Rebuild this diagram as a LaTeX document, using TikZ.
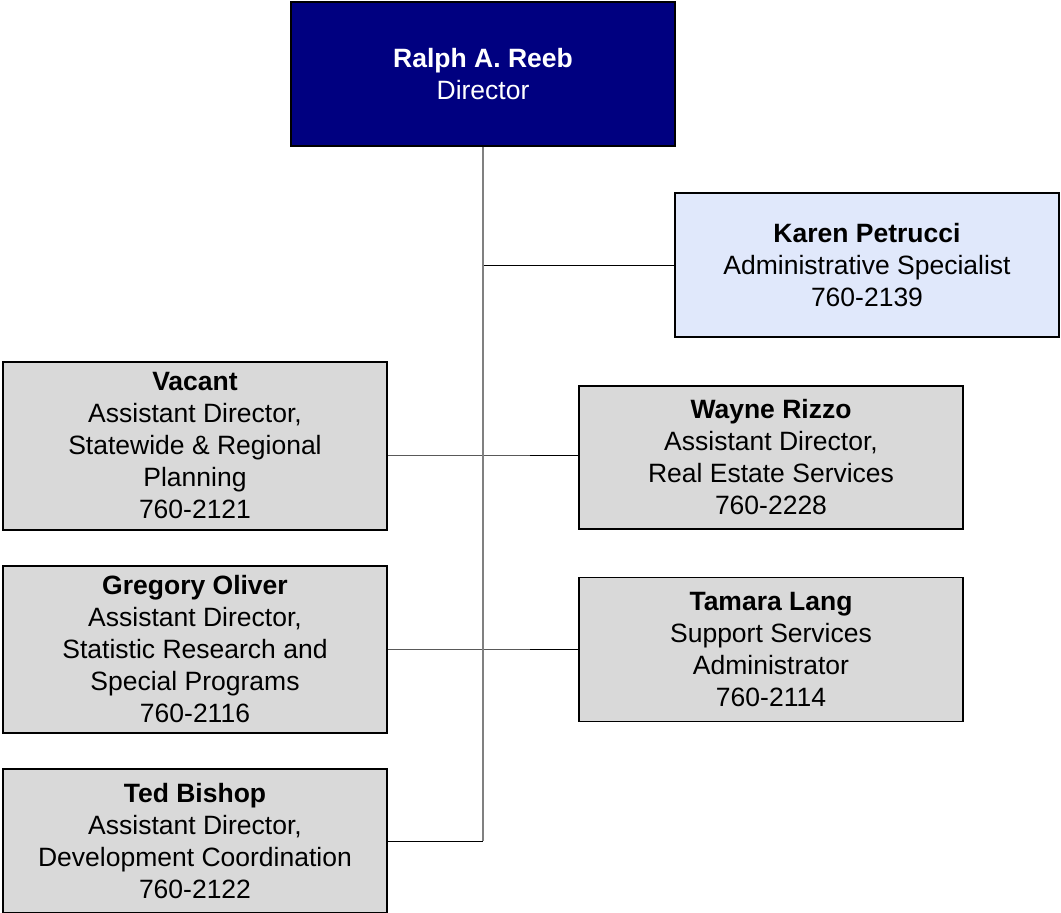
\documentclass[tikz,border=0pt]{standalone}
\usepackage{fontspec}
\setmainfont{Liberation Sans}
\definecolor{navy}{HTML}{000080}
\definecolor{lightblue}{HTML}{E0E8FB}
\definecolor{boxgrey}{HTML}{D9D9D9}
\definecolor{trunkgrey}{HTML}{808080}
\tikzset{
  orgbox/.style={draw=black, line width=1.5pt, fill=boxgrey, inner sep=0pt,
    minimum width=384pt, align=center,
    font=\fontsize{26.5}{32}\selectfont},
  topbox/.style={orgbox, fill=navy, text=white},
  adminbox/.style={orgbox, fill=lightblue},
  trunk/.style={draw=trunkgrey, line width=1.5pt},
  branch/.style={draw=black, line width=1pt}
}
\begin{document}
\begin{tikzpicture}[x=1pt,y=-1pt]
\useasboundingbox (0,0) rectangle (1061,913);
\node[topbox, minimum height=144pt] (dir) at (483,74) {\textbf{Ralph A. Reeb}\\Director};
\node[adminbox, minimum height=144pt] (karen) at (867,265) {\textbf{Karen Petrucci}\\Administrative Specialist\\760-2139};
\node[orgbox, minimum height=168pt] (vacant) at (195,446) {\textbf{Vacant}\\Assistant Director,\\Statewide \& Regional\\Planning\\760-2121};
\node[orgbox, minimum height=143pt] (wayne) at (771,457.5) {\textbf{Wayne Rizzo}\\Assistant Director,\\Real Estate Services\\760-2228};
\node[orgbox, minimum height=167pt] (greg) at (195,649.5) {\textbf{Gregory Oliver}\\Assistant Director,\\Statistic Research and\\Special Programs\\760-2116};
\node[orgbox, minimum height=144pt] (tamara) at (771,649.5) {\textbf{Tamara Lang}\\Support Services\\Administrator\\760-2114};
\node[orgbox, minimum height=144pt] (ted) at (195,841) {\textbf{Ted Bishop}\\Assistant Director,\\Development Coordination\\760-2122};
\coordinate (jk) at (483,265);
\coordinate (j1) at (483,455);
\coordinate (j2) at (483,649);
\coordinate (j3) at (483,841);
\path[branch] (jk) -- (karen.west);
\path[branch] (vacant.east |- j1) -- (j1) -- (wayne.west |- j1);
\path[branch] (greg.east |- j2) -- (j2) -- (tamara.west |- j2);
\path[branch] (ted.east) -- (j3);
\path[trunk] (dir.south) -- (j3);
\end{tikzpicture}
\end{document}
